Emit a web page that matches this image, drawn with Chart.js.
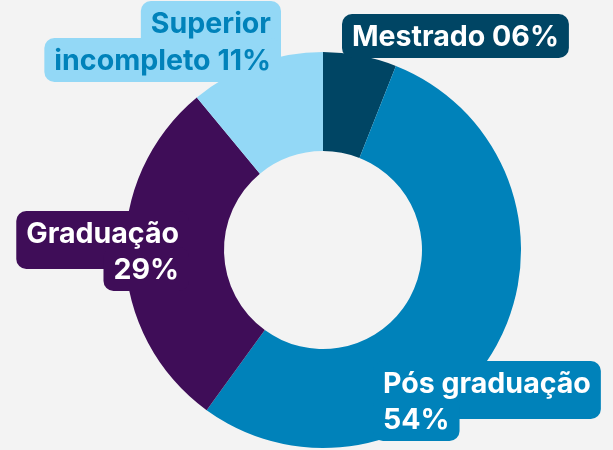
<!DOCTYPE html>
<html><head><meta charset="utf-8">
<script src="https://cdn.jsdelivr.net/npm/chart.js@4"></script>
<style>html,body{margin:0;padding:0;background:#f3f3f3;}#wrap{width:613px;height:450px;position:relative;}</style>
</head><body><div id="wrap"><canvas id="c"></canvas></div>
<script>
const categories = ['Mestrado', 'Pós graduação', 'Graduação', 'Superior incompleto'];
const values = [6, 54, 29, 11];
const percentLabels = ['06%', '54%', '29%', '11%'];
const colors = ['#004564', '#0082ba', '#3f0d58', '#93d8f6'];
const textColors = ['#ffffff', '#ffffff', '#ffffff', '#0082ba'];

const labelLines = [
  [categories[0] + ' ' + percentLabels[0]],
  [categories[1], percentLabels[1]],
  [categories[2], percentLabels[2]],
  ['Superior', 'incompleto ' + percentLabels[3]]
];
const labelPlace = [
  {align: 'left', x: 352, y: [46]},
  {align: 'left', x: 383, y: [393, 429]},
  {align: 'right', x: 179, y: [243, 279]},
  {align: 'right', x: 271, y: [33, 70]}
];

const FONT_FAMILY = 'Inter, "Open Sans", sans-serif';
const labelPlugin = {
  id: 'boxLabels',
  afterDatasetsDraw(chart) {
    const ctx = chart.ctx;
    ctx.save();
    ctx.font = '700 26px ' + FONT_FAMILY;
    const w0 = ctx.measureText('Mestrado 06%').width;
    const size = 26 * 207 / w0;
    const font = '700 ' + size.toFixed(2) + 'px ' + FONT_FAMILY;
    ctx.font = font;
    const capH = ctx.measureText('H').actualBoundingBoxAscent;
    const padX = 10, padTop = 11, padBot = 12, rad = 10;
    labelLines.forEach((lines, i) => {
      const p = labelPlace[i];
      ctx.fillStyle = colors[i];
      lines.forEach((t, j) => {
        const w = ctx.measureText(t).width;
        const left = p.align === 'left' ? p.x : p.x - w;
        const top = p.y[j] - capH - padTop;
        let bottom = p.y[j] + padBot;
        if (j < lines.length - 1) bottom += 14;
        ctx.beginPath();
        ctx.roundRect(left - padX, top, w + 2 * padX, bottom - top, rad);
        ctx.fill();
      });
      ctx.fillStyle = textColors[i];
      ctx.textAlign = p.align;
      ctx.textBaseline = 'alphabetic';
      lines.forEach((t, j) => ctx.fillText(t, p.x, p.y[j]));
    });
    ctx.restore();
  }
};

new Chart(document.getElementById('c'), {
  type: 'doughnut',
  data: {
    labels: categories,
    datasets: [{data: values, backgroundColor: colors, borderWidth: 0, hoverOffset: 0}]
  },
  options: {
    responsive: true,
    maintainAspectRatio: false,
    animation: false,
    cutout: '50%',
    layout: {padding: {top: 52, bottom: 2, left: 124, right: 91}},
    plugins: {legend: {display: false}, tooltip: {enabled: false}}
  },
  plugins: [labelPlugin]
});
</script></body></html>
